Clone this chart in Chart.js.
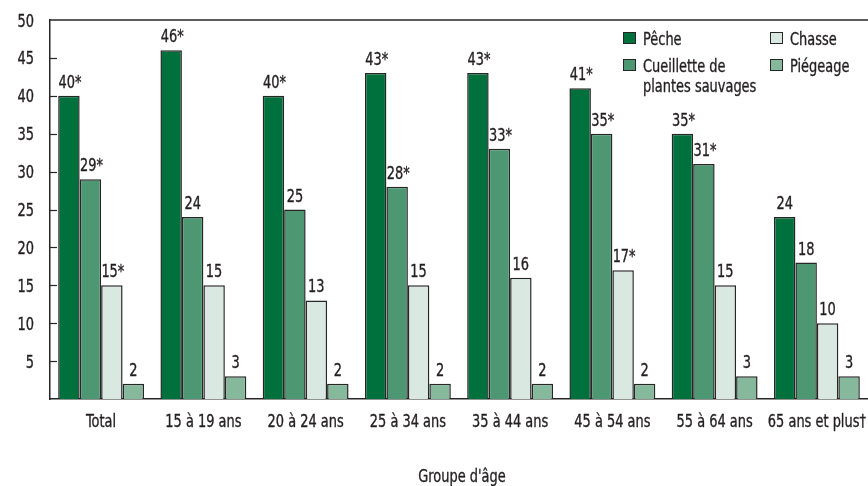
<!DOCTYPE html>
<html lang="fr">
<head>
<meta charset="utf-8">
<title>Activités selon le groupe d'âge</title>
<script src="https://cdn.jsdelivr.net/npm/chart.js@4/dist/chart.umd.min.js"></script>
<style>
  html, body { margin: 0; padding: 0; background: #fff; }
  #wrap { position: relative; width: 868px; height: 486px; }
</style>
</head>
<body>
<div id="wrap"><canvas id="chart" width="868" height="486"></canvas></div>
<script>
// Age groups along the x axis
const ageGroups = ['Total', '15 à 19 ans', '20 à 24 ans', '25 à 34 ans', '35 à 44 ans', '45 à 54 ans', '55 à 64 ans', '65 ans et plus†'];

// Percentages per activity
const peche      = [40, 46, 40, 43, 43, 41, 35, 24];
const cueillette = [29, 24, 25, 28, 33, 35, 31, 18];
const chasse     = [15, 15, 13, 15, 16, 17, 15, 10];
const piegeage   = [2, 3, 2, 2, 2, 2, 3, 3];

// Significance markers shown next to the values
const pecheMarks      = ['*', '*', '*', '*', '*', '*', '*', ''];
const cueilletteMarks = ['*', '', '', '*', '*', '*', '*', ''];
const chasseMarks     = ['*', '', '', '', '', '*', '', ''];
const piegeageMarks   = ['', '', '', '', '', '', '', ''];

// Legend labels (lines)
const seriesNames = [['Pêche'], ['Cueillette de', 'plantes sauvages'], ['Chasse'], ['Piégeage']];

// Y axis ticks
const yTicks = [5, 10, 15, 20, 25, 30, 35, 40, 45, 50];
const xTitle = "Groupe d'âge";

const FONT = '"DejaVu Sans Condensed", "DejaVu Sans", sans-serif';
const SQUEEZE = 0.8;   // horizontal compression for the narrow lettering
const INK = '#231f20';
const EDGE = '#262626';

const colors = ['#00703c', '#4d9873', '#d9e8e1', '#86b99b'];

const datasets = [peche, cueillette, chasse, piegeage].map((vals, i) => ({
  label: seriesNames[i].join(' '),
  data: vals,
  marks: [pecheMarks, cueilletteMarks, chasseMarks, piegeageMarks][i],
  legendLines: seriesNames[i],
  backgroundColor: colors[i],
  borderColor: EDGE,
  borderWidth: 1.5,
  borderSkipped: 'bottom',
  categoryPercentage: 0.84,
  barPercentage: 1.0
}));

// Draws condensed text: align is 'left' | 'center' | 'right', y is the baseline
function narrowText(ctx, txt, x, y, align, size) {
  ctx.save();
  ctx.font = size + 'px ' + FONT;
  ctx.fillStyle = INK;
  ctx.strokeStyle = INK;
  ctx.lineWidth = 0.35;
  ctx.textBaseline = 'alphabetic';
  ctx.textAlign = align;
  ctx.translate(x, y);
  ctx.scale(SQUEEZE, 1);
  ctx.fillText(txt, 0, 0);
  ctx.strokeText(txt, 0, 0);
  ctx.restore();
}

// Value labels above each bar
const valueLabels = {
  id: 'valueLabels',
  afterDatasetsDraw(chart) {
    const ctx = chart.ctx;
    chart.data.datasets.forEach((ds, di) => {
      chart.getDatasetMeta(di).data.forEach((bar, i) => {
        const txt = ds.data[i] + ds.marks[i];
        narrowText(ctx, txt, bar.x + (ds.marks[i] ? 1 : 0), bar.y - 8, 'center', 18);
      });
    });
  }
};

// Frame line on top, axis labels, inward tick marks on the y axis and the legend
const frameAndLegend = {
  id: 'frameAndLegend',
  afterDraw(chart) {
    const ctx = chart.ctx;
    const area = chart.chartArea;
    const y = chart.scales.y;
    const x = chart.scales.x;
    ctx.save();
    ctx.strokeStyle = EDGE;
    ctx.lineWidth = 1.5;
    ctx.beginPath();
    ctx.moveTo(area.left, area.top);
    ctx.lineTo(area.right, area.top);
    ctx.stroke();

    ctx.lineWidth = 1.2;
    y.ticks.forEach((t, i) => {
      const py = y.getPixelForTick(i);
      if (t.value !== 0 && t.value !== 50) {
        ctx.beginPath();
        ctx.moveTo(area.left, Math.round(py) + 0.5);
        ctx.lineTo(area.left + 7, Math.round(py) + 0.5);
        ctx.stroke();
      }
      if (t.value !== 0) narrowText(ctx, String(t.value), 34, py + 6.5, 'right', 18);
    });

    x.ticks.forEach((t, i) => {
      narrowText(ctx, chart.data.labels[i], x.getPixelForTick(i), 427, 'center', 18);
    });
    narrowText(ctx, xTitle, (area.left + area.right) / 2 + 3, 482, 'center', 18);

    // legend: two columns
    const cols = [623, 770];
    const rows = [32, 59];
    chart.data.datasets.forEach((ds, i) => {
      const cx = cols[Math.floor(i / 2)];
      const cy = rows[i % 2];
      ctx.fillStyle = ds.backgroundColor;
      ctx.fillRect(cx, cy, 13, 12);
      ctx.strokeStyle = EDGE;
      ctx.lineWidth = 1;
      ctx.strokeRect(cx + 0.5, cy + 0.5, 12, 11);
      ds.legendLines.forEach((line, li) => {
        narrowText(ctx, line, cx + 20, cy + 12.5 + li * 20.5, 'left', 18);
      });
    });
    ctx.restore();
  }
};

new Chart(document.getElementById('chart'), {
  type: 'bar',
  data: { labels: ageGroups, datasets },
  options: {
    responsive: false,
    animation: false,
    devicePixelRatio: 1,
    layout: { padding: { top: 20, right: 0, left: 0, bottom: 0 } },
    plugins: {
      legend: { display: false },
      tooltip: { enabled: false }
    },
    scales: {
      x: {
        grid: { display: false, drawTicks: false },
        border: { display: true, color: EDGE, width: 1.5 },
        ticks: { display: false, autoSkip: false },
        title: { display: false, text: xTitle },
        afterFit(scale) { scale.height = 87; }
      },
      y: {
        min: 0,
        max: 50,
        afterBuildTicks(scale) {
          scale.ticks = [0].concat(yTicks).map(v => ({ value: v }));
        },
        grid: { display: false, drawTicks: false },
        border: { display: true, color: EDGE, width: 1.5 },
        ticks: { display: false },
        afterFit(scale) { scale.width = 50; }
      }
    }
  },
  plugins: [valueLabels, frameAndLegend]
});
</script>
</body>
</html>
